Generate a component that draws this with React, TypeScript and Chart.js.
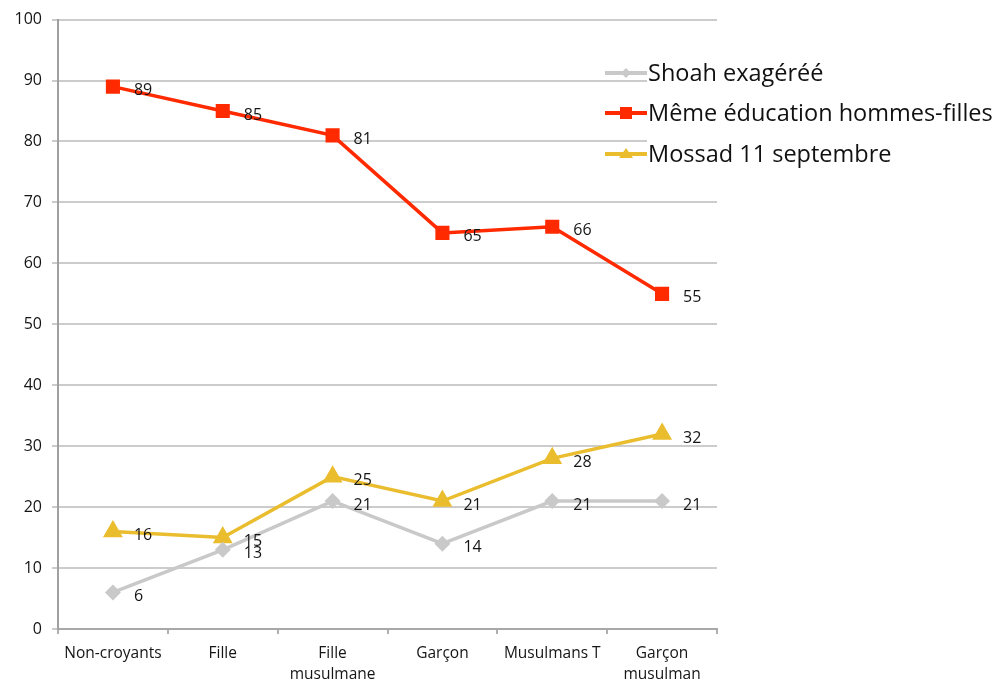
import React, { useEffect, useRef } from "react";
import { Chart, registerables } from "chart.js";

Chart.register(...registerables);

const categories: (string | string[])[] = [
  "Non-croyants",
  "Fille",
  ["Fille", "musulmane"],
  "Garçon",
  "Musulmans T",
  ["Garçon", "musulman"],
];
const shoahValues = [6, 13, 21, 14, 21, 21];
const educationValues = [89, 85, 81, 65, 66, 55];
const mossadValues = [16, 15, 25, 21, 28, 32];
const seriesNames = ["Shoah exagéréé", "Même éducation hommes-filles", "Mossad 11 septembre"];
const yTicks = [0, 10, 20, 30, 40, 50, 60, 70, 80, 90, 100];

const FONT = "'Open Sans', 'Noto Sans', sans-serif";

const labelPlugin = {
  id: "pointLabels",
  afterDatasetsDraw(chart: any) {
    const ctx = chart.ctx;
    ctx.save();
    ctx.font = `16px ${FONT}`;
    ctx.fillStyle = "#151515";
    ctx.textAlign = "left";
    ctx.textBaseline = "middle";
    chart.data.datasets.forEach((ds: any, i: number) => {
      const meta = chart.getDatasetMeta(i);
      meta.data.forEach((pt: any, j: number) => {
        ctx.fillText(String(ds.data[j]), pt.x + 21, pt.y + 4);
      });
    });
    ctx.restore();
  },
};

const legendPlugin = {
  id: "customLegend",
  afterDraw(chart: any) {
    const ctx = chart.ctx;
    ctx.save();
    const x0 = 605;
    const ys = [73, 113, 154];
    chart.data.datasets.forEach((ds: any, i: number) => {
      const y = ys[i];
      ctx.fillStyle = "#ffffff";
      ctx.fillRect(x0 + 42, y - 15, 350, 30);
      ctx.strokeStyle = ds.borderColor;
      ctx.lineWidth = 4;
      ctx.beginPath();
      ctx.moveTo(x0, y);
      ctx.lineTo(x0 + 42, y);
      ctx.stroke();
      ctx.fillStyle = ds.pointBackgroundColor;
      const cx = x0 + 21;
      ctx.beginPath();
      if (ds.pointStyle === "rect") {
        ctx.rect(cx - 6, y - 6, 12, 12);
      } else if (ds.pointStyle === "triangle") {
        ctx.moveTo(cx, y - 6);
        ctx.lineTo(cx + 7, y + 4);
        ctx.lineTo(cx - 7, y + 4);
        ctx.closePath();
      } else {
        ctx.moveTo(cx, y - 5);
        ctx.lineTo(cx + 5, y);
        ctx.lineTo(cx, y + 5);
        ctx.lineTo(cx - 5, y);
        ctx.closePath();
      }
      ctx.fill();
      ctx.fillStyle = "#111111";
      ctx.font = `23.5px ${FONT}`;
      ctx.textAlign = "left";
      ctx.textBaseline = "middle";
      ctx.fillText(seriesNames[i], x0 + 43, y + 1);
    });
    ctx.restore();
  },
};

export default function App() {
  const ref = useRef<HTMLCanvasElement | null>(null);
  useEffect(() => {
    document.body.style.margin = "0";
    const canvas = ref.current!;
    const chart = new Chart(canvas, {
      type: "line",
      data: {
        labels: categories,
        datasets: [
          {
            label: seriesNames[0],
            data: shoahValues,
            borderColor: "#c9c9c9",
            backgroundColor: "#c9c9c9",
            pointBackgroundColor: "#c9c9c9",
            pointBorderColor: "#c9c9c9",
            borderWidth: 3.5,
            pointStyle: "rectRot",
            pointRadius: 5.5,
            tension: 0,
          },
          {
            label: seriesNames[1],
            data: educationValues,
            borderColor: "#ff2a00",
            backgroundColor: "#ff2a00",
            pointBackgroundColor: "#ff2a00",
            pointBorderColor: "#ff2a00",
            borderWidth: 3.5,
            pointStyle: "rect",
            pointRadius: 7.5,
            tension: 0,
          },
          {
            label: seriesNames[2],
            data: mossadValues,
            borderColor: "#eabd2e",
            backgroundColor: "#eabd2e",
            pointBackgroundColor: "#eabd2e",
            pointBorderColor: "#eabd2e",
            borderWidth: 3.5,
            pointStyle: "triangle",
            pointRadius: 8,
            tension: 0,
          },
        ],
      } as any,
      options: {
        animation: false,
        responsive: false,
        maintainAspectRatio: false,
        layout: { padding: { left: 0, right: 278, top: 18, bottom: 0 } },
        plugins: {
          legend: { display: false },
          tooltip: { enabled: false },
        },
        scales: {
          x: {
            offset: true,
            grid: {
              drawOnChartArea: false,
              drawTicks: true,
              tickLength: 5,
              color: "#b0b0b0",
              lineWidth: 2,
              offset: true,
            },
            border: { color: "#a8a8a8", width: 2 },
            ticks: {
              color: "#151515",
              font: { family: FONT, size: 15.5, lineHeight: 1.3 },
              maxRotation: 0,
              autoSkip: false,
              padding: 10,
            },
            afterFit: (scale: any) => {
              scale.height = 53;
            },
          },
          y: {
            min: 0,
            max: 100,
            afterBuildTicks: (scale: any) => {
              scale.ticks = yTicks.map((v) => ({ value: v }));
            },
            grid: {
              color: "#cccccc",
              lineWidth: 2,
              drawTicks: true,
              tickLength: 6,
            },
            border: { color: "#a0a0a0", width: 2 },
            ticks: {
              color: "#151515",
              font: { family: FONT, size: 16 },
              padding: 10,
            },
            afterFit: (scale: any) => {
              scale.width = 58;
            },
          },
        },
      } as any,
      plugins: [labelPlugin, legendPlugin],
    });
    return () => chart.destroy();
  }, []);
  return (
    <div style={{ width: 995, height: 682, background: "#fff" }}>
      <canvas ref={ref} width={995} height={682} style={{ display: "block" }} />
    </div>
  );
}
